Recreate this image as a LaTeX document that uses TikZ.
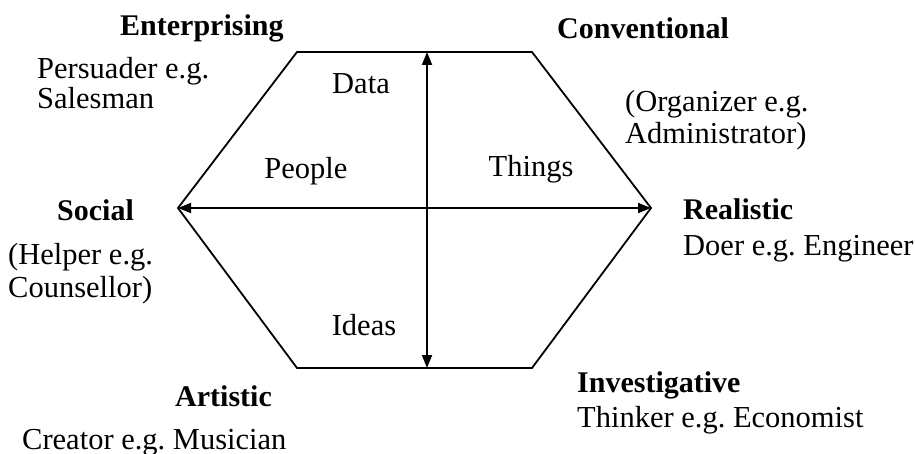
\documentclass[tikz,border=0pt]{standalone}
\usepackage{fontspec}
\setmainfont{Liberation Serif}
\usetikzlibrary{arrows.meta}
\frenchspacing
\begin{document}
\begin{tikzpicture}[x=1pt,y=-1pt,
  txt/.style={inner sep=0pt,anchor=base west,font=\fontsize{30.5}{33}\selectfont},
  ctxt/.style={inner sep=0pt,anchor=base,font=\fontsize{30.5}{33}\selectfont},
  ttl/.style={inner sep=0pt,anchor=base west,font=\fontsize{30}{33}\selectfont\bfseries},
  edge/.style={line width=1.8pt},
  axis/.style={line width=1.8pt,{Triangle[length=13pt,width=10pt]}-{Triangle[length=13pt,width=10pt]}}]
\useasboundingbox (0,0) rectangle (915,454);
% hexagon
\coordinate (tl) at (297,52);
\coordinate (tr) at (532,52);
\coordinate (r) at (651,208);
\coordinate (br) at (532,368);
\coordinate (bl) at (297,368);
\coordinate (l) at (178,208);
\coordinate (vt) at (427,52);
\coordinate (vb) at (427,368);
\draw[edge,line join=miter] (tl) -- (tr) -- (r) -- (br) -- (bl) -- (l) -- cycle;
\draw[axis] (l) -- (r);
\draw[axis] (vb) -- (vt);
% inner labels
\node[ctxt] (data) at (361,94) {Data};
\node[ctxt] (people) at (306,179) {People};
\node[ctxt] (things) at (531,177) {Things};
\node[ctxt] (ideas) at (364,335) {Ideas};
% outer labels
\node[ttl] (ent) at (120,36) {Enterprising};
\node[txt] (ent1) at (37,79) {Persuader e.g.};
\node[txt] (ent2) at (37,109) {Salesman};
\node[ttl] (con) at (557,39) {Conventional};
\node[txt] (con1) at (625,112) {(Organizer e.g.};
\node[txt] (con2) at (625,144) {Administrator)};
\node[ttl] (soc) at (57,221) {Social};
\node[txt] (soc1) at (8,265) {(Helper e.g.};
\node[txt] (soc2) at (8,298) {Counsellor)};
\node[ttl] (rea) at (683,220) {Realistic};
\node[txt] (rea1) at (683,256) {Doer e.g. Engineer};
\node[ttl] (art) at (175,406) {Artistic};
\node[txt] (art1) at (22,449) {Creator e.g. Musician};
\node[ttl] (inv) at (577,392) {Investigative};
\node[txt] (inv1) at (577,427) {Thinker e.g. Economist};
\end{tikzpicture}
\end{document}
